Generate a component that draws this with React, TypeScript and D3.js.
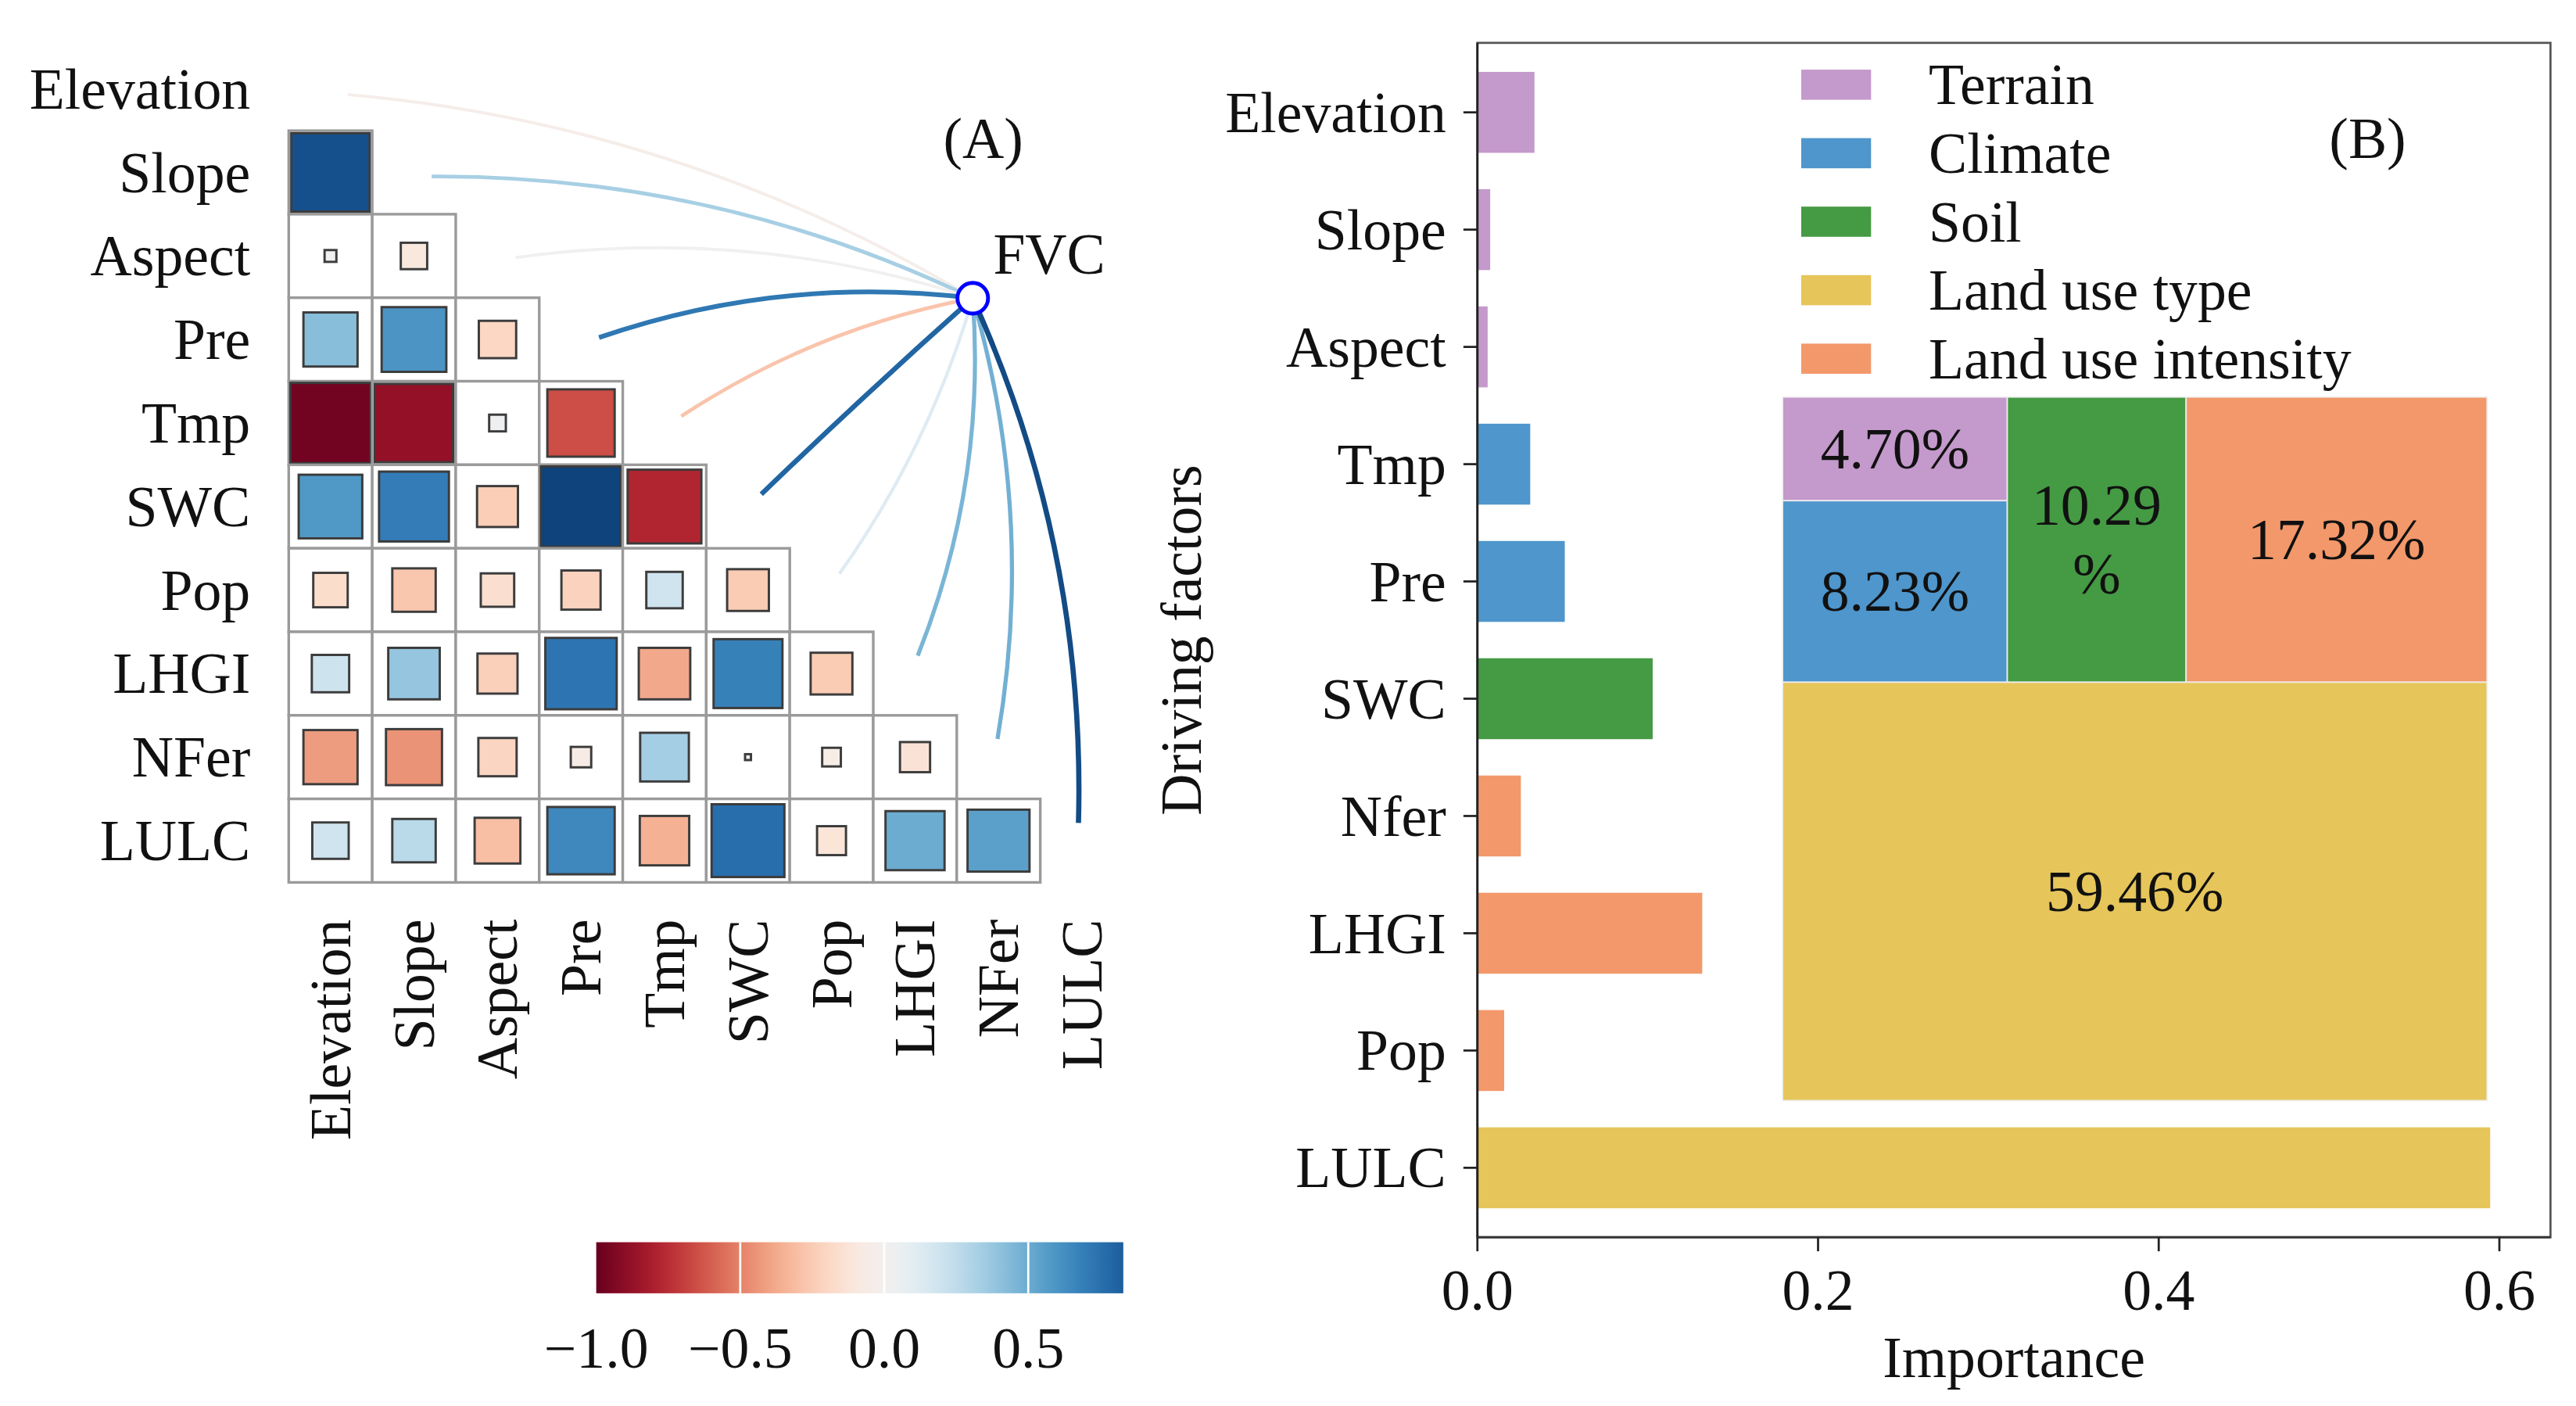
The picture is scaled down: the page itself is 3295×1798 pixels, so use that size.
import React from 'react'
import * as d3 from 'd3'

// ---- panel A: correlation matrix ----
const factors = ['Elevation', 'Slope', 'Aspect', 'Pre', 'Tmp', 'SWC', 'Pop', 'LHGI', 'NFer', 'LULC']

// lower triangle: row i holds r against columns 0..i-1
const corrRows: number[][] = [
  [],
  [0.88],
  [0.02, -0.1],
  [0.42, 0.6, -0.2],
  [-0.97, -0.88, 0.04, -0.65],
  [0.58, 0.7, -0.24, 0.93, -0.78],
  [-0.17, -0.27, -0.16, -0.22, 0.19, -0.25],
  [0.2, 0.38, -0.23, 0.73, -0.38, 0.68, -0.25],
  [-0.42, -0.45, -0.21, -0.06, 0.34, 0.005, -0.05, -0.13],
  [0.19, 0.27, -0.3, 0.65, -0.35, 0.76, -0.12, 0.5, 0.55],
]

// correlation of each factor with FVC (links)
const fvcCorr = [-0.04, 0.33, 0.01, 0.72, -0.28, 0.8, 0.12, 0.46, 0.48, 0.9]

const colorbarTicks = [-1.0, -0.5, 0.0, 0.5]
const colorbarMax = 0.83

// ---- panel B: importance bars + treemap ----
const barFactors = ['Elevation', 'Slope', 'Aspect', 'Tmp', 'Pre', 'SWC', 'Nfer', 'LHGI', 'Pop', 'LULC']
const barImportance = [0.0335, 0.0075, 0.006, 0.031, 0.0513, 0.1029, 0.0255, 0.132, 0.0157, 0.5946]
const barGroup = ['Terrain', 'Terrain', 'Terrain', 'Climate', 'Climate', 'Soil',
  'Land use intensity', 'Land use intensity', 'Land use intensity', 'Land use type']

const groupNames = ['Terrain', 'Climate', 'Soil', 'Land use type', 'Land use intensity']
const groupColors = ['#c499cb', '#4e96cc', '#459a44', '#e6c55a', '#f3986a']
const groupShare = [4.70, 8.23, 10.29, 59.46, 17.32]

const importanceTicks = [0, 0.2, 0.4, 0.6]

const FONT = "'Liberation Serif', 'Times New Roman', Times, serif"
const FS = 35

export default function App() {
  const W = 1564, H = 853.4

  // matrix scales
  const mx = d3.scaleBand<string>().domain(factors).range([175.3, 682.3])
  const my = d3.scaleBand<string>().domain(factors).range([28.6, 535.6])
  const cell = mx.bandwidth()
  const corrColor = d3.scaleSequential(d3.interpolateRdBu).domain([-1, 1])
  const sqSize = d3.scaleSqrt().domain([0, 1]).range([0, cell]).clamp(true)

  const fvc = { x: 590.6, y: 181 }

  const links = factors.map((f, i) => {
    const cx = mx(f)! + cell / 2
    const cy = my(f)! + cell / 2
    const d0x = fvc.x - cx, d0y = fvc.y - cy
    const L0 = Math.hypot(d0x, d0y)
    const sx = cx + (d0x / L0) * 11
    const sy = cy + (d0y / L0) * 11
    const dx = fvc.x - sx, dy = fvc.y - sy
    const L = Math.hypot(dx, dy)
    let nx = dy / L, ny = -dx / L
    if (nx - ny < 0) { nx = -nx; ny = -ny }
    const s = (nx - ny) / Math.SQRT2
    const h = L * 0.115 * Math.min(1, s / 0.45)
    const p = d3.path()
    p.moveTo(sx, sy)
    p.quadraticCurveTo((sx + fvc.x) / 2 + nx * h, (sy + fvc.y) / 2 + ny * h, fvc.x, fvc.y)
    const r = fvcCorr[i]
    return { d: p.toString(), color: corrColor(r), width: 1.8 + 1.5 * Math.abs(r), key: f }
  })

  // colorbar
  const cbX = d3.scaleLinear().domain([-1, colorbarMax]).range([362, 682])
  const cbStops = d3.range(0, 41).map(k => -1 + (k / 40) * (colorbarMax + 1))
  const fmt = d3.format('.1f')

  // bar chart scales
  const xs = d3.scaleLinear().domain([0, 0.63]).range([897, 1548.5])
  const ys = d3.scaleBand<string>().domain(barFactors).range([26, 751])
    .paddingInner(0.31).paddingOuter(0.2475)
  const groupColor = d3.scaleOrdinal<string, string>().domain(groupNames).range(groupColors)

  // treemap inset
  const tmX = 1082.3, tmY = 241, tmW = 427.7, tmH = 427
  const tree = {
    name: 'root',
    children: [
      {
        name: 'upper',
        children: [
          { name: 'tc', children: [{ name: groupNames[0], value: groupShare[0] }, { name: groupNames[1], value: groupShare[1] }] },
          { name: groupNames[2], value: groupShare[2] },
          { name: groupNames[4], value: groupShare[4] },
        ],
      },
      { name: groupNames[3], value: groupShare[3] },
    ],
  }
  const tile = (node: any, x0: number, y0: number, x1: number, y1: number) => {
    if (node.depth % 2 === 0) d3.treemapSlice(node, x0, y0, x1, y1)
    else d3.treemapDice(node, x0, y0, x1, y1)
  }
  const root = d3.hierarchy<any>(tree).sum((d: any) => d.value || 0)
  d3.treemap<any>().tile(tile).size([tmW, tmH])(root)
  const leaves = root.leaves() as d3.HierarchyRectangularNode<any>[]

  const labelLines = (v: number, w: number) => {
    const num = v.toFixed(2)
    const est = FS * (num.replace('.', '').length * 0.5 + 0.25 + 0.833)
    return est > w - 4 ? [num, '%'] : [num + '%']
  }

  const legendY = d3.scalePoint<string>().domain(groupNames).range([51.4, 217.7])

  return (
    <svg
      width={3295}
      height={1798}
      viewBox={`0 0 ${W} ${H}`}
      style={{ position: 'absolute', left: 0, top: 0, background: '#fff' }}
      fontFamily={FONT}
    >
      <rect x={0} y={0} width={W} height={H} fill="#fff" />

      {/* ---------- panel A ---------- */}
      <g>
        {corrRows.map((row, i) =>
          row.map((r, j) => {
            const x = mx(factors[j])!
            const y = my(factors[i])!
            const s = Math.min(sqSize(Math.abs(r)), cell - 2)
            return (
              <g key={`c${i}-${j}`}>
                <rect x={x} y={y} width={cell} height={cell} fill="#fff" stroke="#9a9a9a" strokeWidth={1.6} />
                <rect
                  x={x + (cell - s) / 2}
                  y={y + (cell - s) / 2}
                  width={s}
                  height={s}
                  fill={corrColor(r)}
                  stroke="#3c3c3c"
                  strokeWidth={1.4}
                />
              </g>
            )
          })
        )}

        {factors.map(f => (
          <text key={`rl-${f}`} x={152} y={my(f)! + cell / 2} dy="0.34em" textAnchor="end" fontSize={FS} fill="#111">
            {f}
          </text>
        ))}
        {factors.map(f => (
          <text
            key={`cl-${f}`}
            transform={`translate(${mx(f)! + cell / 2},558) rotate(-90)`}
            dy="0.34em"
            textAnchor="end"
            fontSize={FS}
            fill="#111"
          >
            {f}
          </text>
        ))}

        {links.map(l => (
          <path key={`lk-${l.key}`} d={l.d} fill="none" stroke={l.color} strokeWidth={l.width} strokeLinecap="butt" />
        ))}
        <circle cx={fvc.x} cy={fvc.y} r={9.3} fill="#fff" stroke="#0000ff" strokeWidth={2.3} />
        <text x={603} y={166} fontSize={FS} fill="#111">FVC</text>
        <text x={597} y={96} textAnchor="middle" fontSize={FS} fill="#111">(A)</text>

        {/* colorbar */}
        <defs>
          <linearGradient id="cbGrad" x1="0" x2="1" y1="0" y2="0">
            {cbStops.map((v, k) => (
              <stop key={k} offset={`${(k / 40) * 100}%`} stopColor={corrColor(v)} />
            ))}
          </linearGradient>
        </defs>
        <rect x={cbX(-1)} y={754} width={cbX(colorbarMax) - cbX(-1)} height={31} fill="url(#cbGrad)" />
        {colorbarTicks.slice(1).map(t => (
          <line key={`cbt${t}`} x1={cbX(t)} x2={cbX(t)} y1={754} y2={785} stroke="#fff" strokeWidth={1.3} />
        ))}
        {colorbarTicks.map(t => (
          <text key={`cbl${t}`} x={cbX(t)} y={830} textAnchor="middle" fontSize={FS} fill="#111">
            {fmt(t)}
          </text>
        ))}
      </g>

      {/* ---------- panel B ---------- */}
      <g>
        {barFactors.map((f, i) => (
          <rect
            key={`bar-${f}`}
            x={xs(0)}
            y={ys(f)!}
            width={xs(barImportance[i]) - xs(0)}
            height={ys.bandwidth()}
            fill={groupColor(barGroup[i])}
          />
        ))}

        {/* treemap inset */}
        <g transform={`translate(${tmX},${tmY})`}>
          {leaves.map(n => {
            const gi = groupNames.indexOf(n.data.name)
            const w = n.x1 - n.x0, h = n.y1 - n.y0
            const lines = labelLines(groupShare[gi], w)
            const lh = 42
            return (
              <g key={`tm-${n.data.name}`}>
                <rect x={n.x0} y={n.y0} width={w} height={h} fill={groupColors[gi]} stroke="#eeeeee" strokeWidth={0.8} />
                {lines.map((ln, k) => (
                  <text
                    key={k}
                    x={n.x0 + w / 2}
                    y={n.y0 + h / 2 + (k - (lines.length - 1) / 2) * lh}
                    dy="0.34em"
                    textAnchor="middle"
                    fontSize={FS}
                    fill="#111"
                  >
                    {ln}
                  </text>
                ))}
              </g>
            )
          })}
        </g>

        {/* frame */}
        <rect x={xs(0)} y={26} width={1548.5 - xs(0)} height={751 - 26} fill="none" stroke="#555" strokeWidth={1.3} />
        <line x1={xs(0)} x2={xs(0)} y1={26} y2={751} stroke="#222" strokeWidth={1.3} />
        <line x1={xs(0)} x2={1548.5} y1={751} y2={751} stroke="#333" strokeWidth={1.3} />

        {/* y axis */}
        {barFactors.map(f => {
          const y = ys(f)! + ys.bandwidth() / 2
          return (
            <g key={`yt-${f}`}>
              <line x1={xs(0) - 8.5} x2={xs(0)} y1={y} y2={y} stroke="#222" strokeWidth={1.3} />
              <text x={878} y={y} dy="0.34em" textAnchor="end" fontSize={FS} fill="#111">{f}</text>
            </g>
          )
        })}
        <text transform={`translate(729,388.5) rotate(-90)`} textAnchor="middle" fontSize={FS} fill="#111">
          Driving factors
        </text>

        {/* x axis */}
        {importanceTicks.map(t => (
          <g key={`xt-${t}`}>
            <line x1={xs(t)} x2={xs(t)} y1={751} y2={759.5} stroke="#222" strokeWidth={1.3} />
            <text x={xs(t)} y={795} textAnchor="middle" fontSize={FS} fill="#111">{fmt(t)}</text>
          </g>
        ))}
        <text x={(xs(0) + 1548.5) / 2} y={836} textAnchor="middle" fontSize={FS} fill="#111">Importance</text>

        {/* legend */}
        {groupNames.map((g, i) => (
          <g key={`lg-${g}`}>
            <rect x={1093.6} y={legendY(g)! - 9.15} width={42.4} height={18.3} fill={groupColors[i]} />
            <text x={1171} y={legendY(g)!} dy="0.34em" fontSize={FS} fill="#111">{g}</text>
          </g>
        ))}
        <text x={1437.5} y={96} textAnchor="middle" fontSize={FS} fill="#111">(B)</text>
      </g>
    </svg>
  )
}
